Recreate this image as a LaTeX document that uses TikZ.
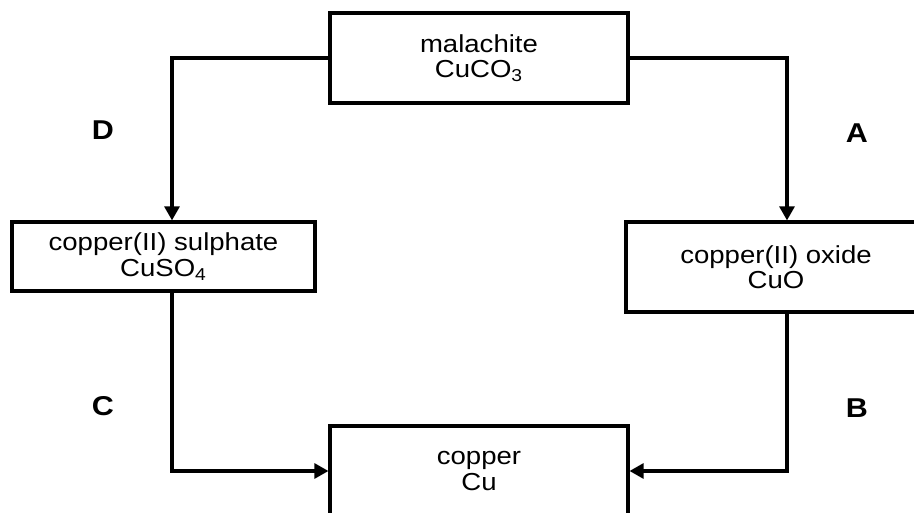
\documentclass[tikz,border=0pt]{standalone}
\usepackage{fontspec}
\setmainfont{Liberation Sans}[FakeStretch=1.12]
\usetikzlibrary{arrows.meta,positioning}
\definecolor{inkBlack}{RGB}{0,0,0}
\newcommand{\chemSub}[1]{\textsubscript{#1}}

\begin{document}
\begin{tikzpicture}[x=0.02cm,y=-0.02cm,
  stageBox/.style={draw=inkBlack,line width=1.8pt,align=center,inner sep=0pt,
    font=\fontsize{14pt}{14.5pt}\selectfont},
  flowArrow/.style={draw=inkBlack,line width=1.8pt,-{Triangle[length=8pt,width=8.5pt]}},
  stepLabel/.style={font=\fontsize{15.5pt}{16pt}\selectfont\bfseries}]
\useasboundingbox (0,0) rectangle (914,513);
\clip (0,0) rectangle (914,513);
% boxes
\node[stageBox,minimum width=5.96cm,minimum height=1.8cm] (malachite) at (479,58) {malachite\\CuCO\chemSub{3}};
\node[stageBox,minimum width=6.06cm,minimum height=1.38cm] (sulphate) at (163.5,256.5) {copper(II) sulphate\\CuSO\chemSub{4}};
\node[stageBox,minimum width=6.0cm,minimum height=1.8cm] (oxide) at (776,267) {copper(II) oxide\\CuO};
\node[stageBox,minimum width=5.96cm,minimum height=1.8cm] (copper) at (479,471) {copper\\Cu};
% columns of the connectors
\coordinate (leftCol) at (172,0);
\coordinate (rightCol) at (787,0);
% connectors
\draw[flowArrow] (malachite.west) -| (leftCol |- sulphate.north);
\draw[flowArrow] (malachite.east) -| (rightCol |- oxide.north);
\draw[flowArrow] (leftCol |- sulphate.south) |- (copper.west);
\draw[flowArrow] (rightCol |- oxide.south) |- (copper.east);
% step letters
\node[stepLabel] (stepD) at (103,130) {D};
\node[stepLabel] (stepA) at (857,133) {A};
\node[stepLabel] (stepC) at (103,406) {C};
\node[stepLabel] (stepB) at (857,408) {B};
\end{tikzpicture}
\end{document}
